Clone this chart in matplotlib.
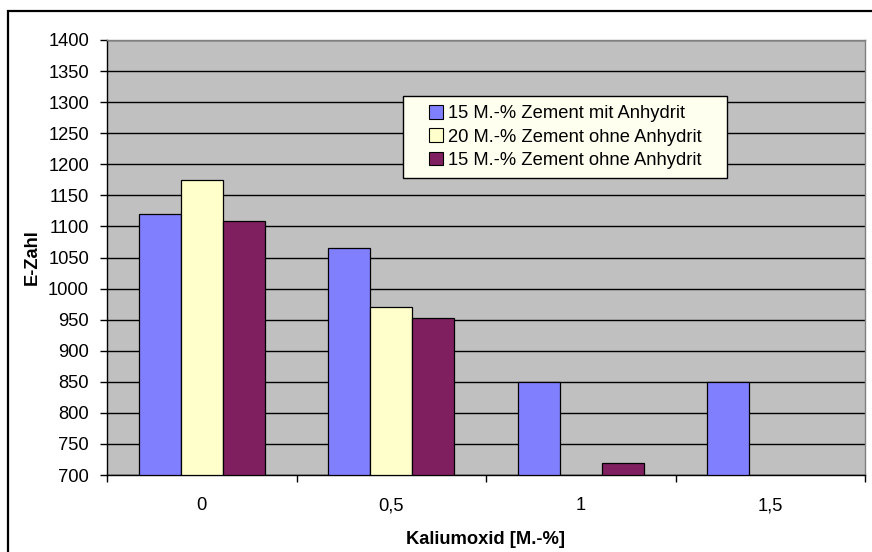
import matplotlib
matplotlib.use("Agg")
import matplotlib.pyplot as plt
from matplotlib.patches import Rectangle
import numpy as np

plt.rcParams['font.family'] = ['Liberation Sans', 'DejaVu Sans']

# Kaliumoxid-Gehalt und E-Zahl je Mischung (NaN = kein Wert)
categories = ['0', '0,5', '1', '1,5']
series_labels = ['15 M.-% Zement mit Anhydrit',
                 '20 M.-% Zement ohne Anhydrit',
                 '15 M.-% Zement ohne Anhydrit']
mit_anhydrit_15 = [1120, 1065, 850, 850]
ohne_anhydrit_20 = [1175, 970, np.nan, np.nan]
ohne_anhydrit_15 = [1108, 952, 720, np.nan]
series_colors = ['#8080FF', '#FFFFCC', '#7F1F5F']

FS = 13.2
W, H = 872, 552
AX_L, AX_T, AX_W, AX_H = 107, 40, 758, 435

fig = plt.figure(figsize=(W / 100, H / 100), dpi=100)
ax = fig.add_axes([AX_L / W, 1 - (AX_T + AX_H) / H, AX_W / W, AX_H / H])
ax.set_facecolor('#C0C0C0')

x = np.arange(len(categories))
width = 0.222
all_series = [mit_anhydrit_15, ohne_anhydrit_20, ohne_anhydrit_15]
for i, (vals, lab, col) in enumerate(zip(all_series, series_labels, series_colors)):
    vals = np.array(vals, dtype=float)
    ax.bar(x + (i - 1) * width, vals - 700, width, bottom=700, color=col,
           edgecolor='black', linewidth=0.9, label=lab, zorder=3)

ax.set_xlim(-0.5, len(categories) - 0.5)
ax.set_ylim(700, 1400)
ax.set_yticks(np.arange(700, 1401, 50))
ax.yaxis.grid(True, color='black', linewidth=1.0, zorder=0)
ax.set_axisbelow(True)

# category labels centered, tick marks between categories
ax.set_xticks(x)
ax.set_xticklabels(categories)
ax.set_xticks(np.arange(-0.5, len(categories)), minor=True)
ax.tick_params(axis='x', which='major', length=0, pad=16, labelsize=FS)
ax.tick_params(axis='x', which='minor', length=5, width=1, direction='out')
ax.tick_params(axis='y', length=5, width=1, direction='out', labelsize=FS, pad=8)

for side in ['left', 'bottom']:
    ax.spines[side].set_color('black')
    ax.spines[side].set_linewidth(1.0)
for side in ['top', 'right']:
    ax.spines[side].set_color('#808080')
    ax.spines[side].set_linewidth(1.0)

ax.set_xlabel('Kaliumoxid [M.-%]', fontsize=FS, weight='bold', labelpad=12)
ax.set_ylabel('E-Zahl', fontsize=FS, weight='bold', labelpad=5)


def px_to_axes(px, py):
    return (px - AX_L) / AX_W, (AX_T + AX_H - py) / AX_H


# legend box drawn as its own patch so the inner padding can differ per side
bx, by = px_to_axes(403, 178)
box = Rectangle((bx, by), 324 / AX_W, 82 / AX_H, transform=ax.transAxes,
                facecolor='#FFFFF0', edgecolor='black', linewidth=1.0,
                zorder=5, clip_on=False)
ax.add_artist(box)
leg = ax.legend(loc='center left', bbox_to_anchor=px_to_axes(429, 137),
                fontsize=FS, frameon=False, borderpad=0, labelspacing=0.32,
                handlelength=0.78, handleheight=0.78, handletextpad=0.25,
                borderaxespad=0)
leg.set_zorder(6)
for h in leg.legend_handles:
    h.set_edgecolor('black')
    h.set_linewidth(0.8)

# outer chart frame
fig.patches.append(Rectangle((7.5 / W, -0.1), 1.2, 1 - 10.5 / H + 0.1,
                             transform=fig.transFigure, fill=False,
                             edgecolor='black', linewidth=1.6))

fig.savefig('out.png', dpi=100)
